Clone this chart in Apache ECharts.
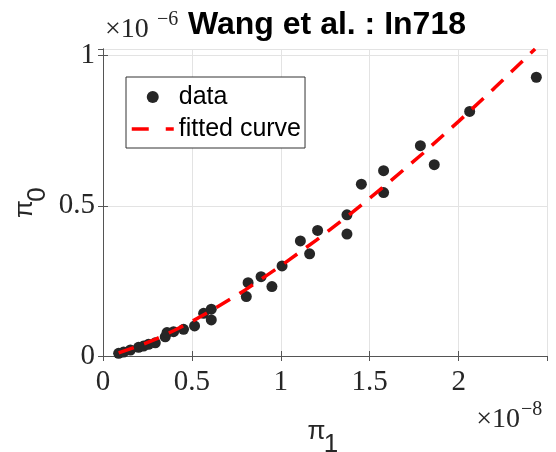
<!DOCTYPE html>
<html>
<head>
<meta charset="utf-8">
<script src="https://cdn.jsdelivr.net/npm/echarts@6/dist/echarts.min.js"></script>
<style>html,body{margin:0;padding:0;background:#fff;}#c{width:556px;height:452px;}</style>
</head>
<body>
<div id="c"></div>
<script>
// data (pi_1 in units of 1e-8, pi_0 in units of 1e-6)
const dataX = [0.088,0.116,0.154,0.200,0.228,0.256,0.294,0.350,0.360,0.397,0.453,0.515,0.566,0.609,0.609,0.806,0.816,0.889,0.950,1.007,1.110,1.162,1.207,1.372,1.372,1.453,1.578,1.578,1.785,1.863,2.062,2.437];
const dataY = [0.009,0.013,0.020,0.029,0.033,0.039,0.044,0.064,0.078,0.081,0.089,0.100,0.142,0.156,0.120,0.198,0.244,0.264,0.231,0.300,0.383,0.340,0.418,0.470,0.406,0.572,0.617,0.544,0.700,0.637,0.814,0.928];
// fitted curve points
const curveX = [0.088,0.2,0.3,0.4,0.5,0.6,0.8,1.0,1.2,1.4,1.6,1.8,2.0,2.2,2.43];
const curveY = [0.0105,0.033,0.057,0.085,0.115,0.148,0.220,0.300,0.386,0.477,0.574,0.675,0.781,0.891,1.022];
const xTicks = [0,0.5,1,1.5,2];
const yTicks = [0,0.5,1];
const xMax = 2.497, yMax = 1.022;

const chart = echarts.init(document.getElementById('c'));
const ink = '#262626';
const dash = [16,11];
const axisLine = {show:true, lineStyle:{color:'#555', width:1}};
const tick = {show:true, inside:true, length:5, lineStyle:{color:'#555'}};
const grid = {show:true, lineStyle:{color:'#e3e3e3', width:1}};
const lab = {color:ink, fontFamily:'Liberation Serif', fontSize:29};
chart.setOption({
  animation:false,
  title:{text:'Wang et al. : In718', left:188, top:9, padding:0,
    textStyle:{fontFamily:'Liberation Sans', fontWeight:'bold', fontSize:32, color:'#000'}},
  grid:{left:103, right:9, top:49, bottom:96},
  xAxis:[
    {type:'value', min:0, max:xMax, interval:0.5, position:'bottom', axisLine, axisTick:tick, splitLine:grid,
     axisLabel:Object.assign({margin:12, showMaxLabel:false, formatter:v=>xTicks.includes(v)?String(v):''}, lab)},
    {type:'value', min:0, max:xMax, interval:0.5, position:'top', axisLine, axisTick:tick, splitLine:{show:false}, axisLabel:{show:false}}
  ],
  yAxis:[
    {type:'value', min:0, max:yMax, interval:0.5, position:'left', axisLine, axisTick:tick, splitLine:grid,
     axisLabel:Object.assign({margin:8, showMaxLabel:false, formatter:v=>yTicks.includes(v)?String(v):''}, lab)},
    {type:'value', min:0, max:yMax, interval:0.5, position:'right', axisLine, axisTick:tick, splitLine:{show:false}, axisLabel:{show:false}}
  ],
  legend:{orient:'vertical', left:126, top:77, padding:[7,4,6,4], itemGap:6, itemWidth:42, itemHeight:12,
    backgroundColor:'#fff', borderColor:'#333', borderWidth:1, borderRadius:0,
    textStyle:{fontFamily:'Liberation Sans', fontSize:25, color:'#000', lineHeight:26},
    data:[{name:'data', icon:'circle'},
          {name:'fitted curve', itemStyle:{opacity:0}, lineStyle:{color:'#ff0000', width:3.5, type:[17,17]}}]},
  series:[
    {name:'data', type:'scatter', symbol:'circle', symbolSize:11, itemStyle:{color:ink, opacity:1},
     data:dataX.map((x,i)=>[x,dataY[i]])},
    {name:'fitted curve', type:'line', showSymbol:false, symbol:'none', smooth:false,
     lineStyle:{color:'#ff0000', width:3.5, type:dash}, itemStyle:{color:'#ff0000'},
     data:curveX.map((x,i)=>[x,curveY[i]])}
  ],
  graphic:[
    {type:'text', x:105, y:30, style:{text:'×10', font:'28px Liberation Serif', fill:ink, align:'left', verticalAlign:'middle'}},
    {type:'text', x:157, y:20, style:{text:'−6', font:'20px Liberation Serif', fill:ink, align:'left', verticalAlign:'middle'}},
    {type:'text', x:520, y:420, style:{text:'×10', font:'28px Liberation Serif', fill:ink, align:'right', verticalAlign:'middle'}},
    {type:'text', x:521, y:410, style:{text:'−8', font:'20px Liberation Serif', fill:ink, align:'left', verticalAlign:'middle'}},
    {type:'text', x:316.5, y:432, style:{text:'π', font:'26px Liberation Sans', fill:ink, align:'center', verticalAlign:'middle'}},
    {type:'text', x:331, y:445, style:{text:'1', font:'26px Liberation Sans', fill:ink, align:'center', verticalAlign:'middle'}},
    {type:'text', x:24.5, y:209, rotation:Math.PI/2, style:{text:'π', font:'26px Liberation Sans', fill:ink, align:'center', verticalAlign:'middle'}},
    {type:'text', x:38, y:194.5, rotation:Math.PI/2, style:{text:'0', font:'26px Liberation Sans', fill:ink, align:'center', verticalAlign:'middle'}}
  ]
});
</script>
</body>
</html>
